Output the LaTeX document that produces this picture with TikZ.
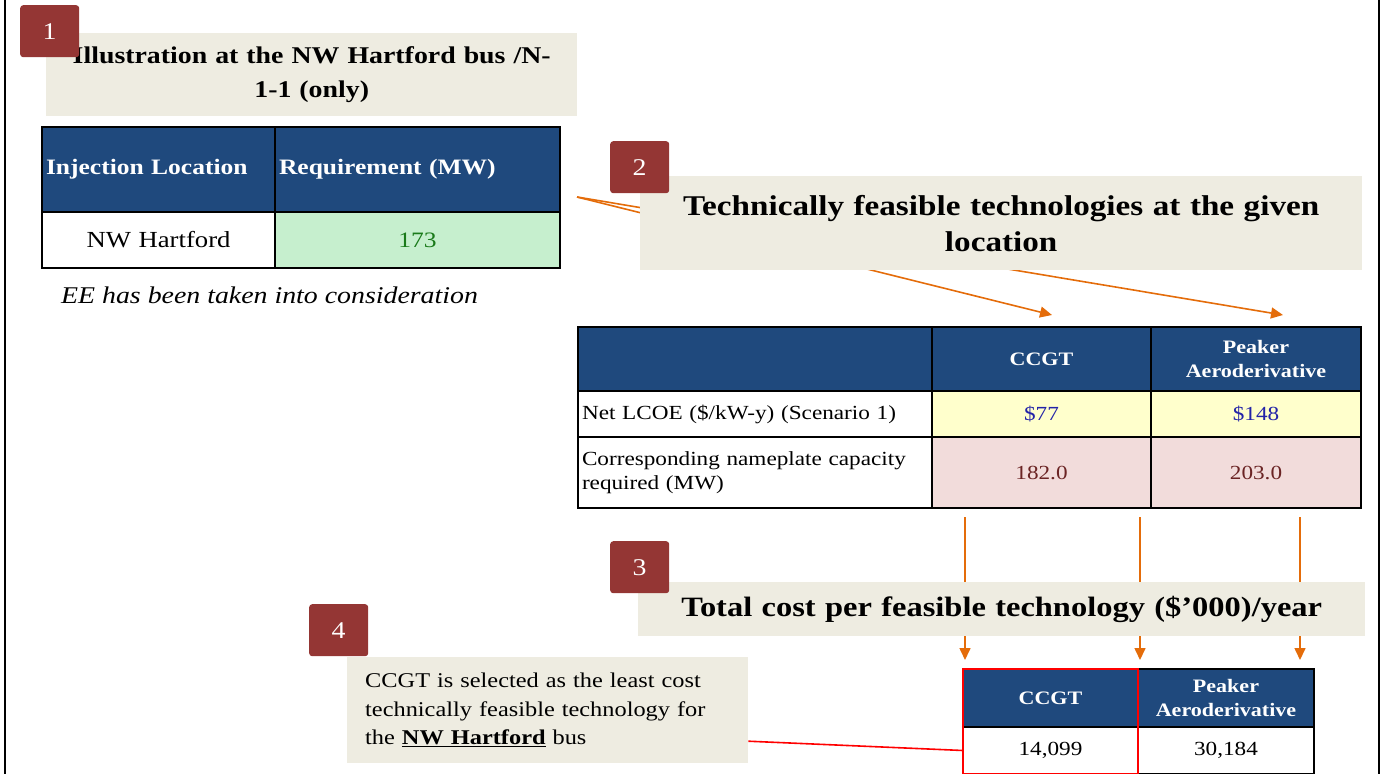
\documentclass[tikz,border=0pt]{standalone}
\usepackage{fontspec}
\setmainfont[FakeStretch=1.16]{Liberation Serif}
\usetikzlibrary{arrows.meta,positioning,calc}
\definecolor{hdrblue}{HTML}{1F497D}
\definecolor{badgered}{HTML}{943634}
\definecolor{calloutbg}{HTML}{EEECE1}
\definecolor{flowor}{HTML}{E46C0A}
\definecolor{okgreen}{HTML}{C6EFCE}
\definecolor{oktext}{HTML}{1A7A1A}
\definecolor{lcoebg}{HTML}{FFFFCC}
\definecolor{lcoetext}{HTML}{2323A8}
\definecolor{mwbg}{HTML}{F2DCDB}
\definecolor{mwtext}{HTML}{6B2424}
\tikzset{
  >={Triangle[length=12pt,width=11pt]},
  % nummerrutor
  badge/.style={fill=badgered,text=white,rounded corners=3pt,anchor=north west,
                minimum width=59pt,minimum height=52pt,inner sep=0pt,
                font=\fontsize{24}{24}\selectfont},
  callout/.style={fill=calloutbg,anchor=north west,inner sep=0pt,align=center,
                  font=\fontsize{28.6}{36}\selectfont\bfseries},
  % tabeller
  cell/.style={draw=black,line width=1.6pt,outer sep=0pt,inner xsep=4pt,inner ysep=0pt,
               font=\fontsize{20}{24}\selectfont},
  hdr/.style={cell,fill=hdrblue,text=white,font=\fontsize{19}{24}\selectfont\bfseries},
  flow/.style={->,draw=flowor,line width=1.6pt},
  pick/.style={draw=red,line width=1.6pt},
}
\begin{document}
\begin{tikzpicture}[x=1pt,y=-1pt]
  \useasboundingbox (0,0) rectangle (1382,774);
  \draw[line width=2pt] (5,0) -- (5,774) (1379,0) -- (1379,774);

  % pilar bakom rutorna
  \coordinate (fan) at (577,197);
  \coordinate (endA) at (1052,315);
  \coordinate (endB) at (1283,315);
  \draw[flow] (fan) -- (endA);
  \draw[flow] (fan) -- (endB);
  \foreach \x/\n in {965/1,1140/2,1300/3}{
    \coordinate (top\n) at (\x,517);
    \coordinate (bot\n) at (\x,660);
    \draw[flow] (top\n) -- (bot\n);
  }

  % rubriker
  \node[callout,minimum width=531pt,minimum height=83pt,text width=520pt,
        font=\fontsize{24}{34}\selectfont\bfseries] (title1) at (46,33)
    {Illustration at the NW Hartford bus /N-\\1-1 (only)};
  \node[callout,minimum width=722pt,minimum height=94pt,text width=710pt] (title2) at (640,176)
    {Technically feasible technologies at the given\\location};
  \node[callout,minimum width=727pt,minimum height=54pt,text width=720pt,
        font=\fontsize{28}{36}\selectfont\bfseries] (title3) at (638,582)
    {Total cost per feasible technology (\$’000)/year};
  \node[callout,minimum width=401pt,minimum height=106pt,text width=365pt,inner xsep=18pt,
        align=left,font=\fontsize{21}{28.5}\selectfont] (note) at (347,657)
    {CCGT is selected as the least cost\\technically feasible technology for\\
     the \underline{\textbf{NW Hartford}} bus};

  \node[badge] (b1) at (20,5) {1};
  \node[badge] (b2) at (610,141) {2};
  \node[badge] (b3) at (610,541) {3};
  \node[badge] (b4) at (309,604) {4};

  % tabell 1
  \node[hdr,anchor=north west,text width=225pt,minimum height=85pt,align=left,
        font=\fontsize{22}{24}\selectfont\bfseries] (inj) at (42,127)
    {Injection Location};
  \node[hdr,right=0pt of inj,text width=277pt,minimum height=85pt,align=left,
        font=\fontsize{22}{24}\selectfont\bfseries] (req)
    {Requirement (MW)};
  \node[cell,below=0pt of inj,text width=225pt,minimum height=56pt,align=center,
        font=\fontsize{23}{24}\selectfont] (loc)
    {NW Hartford};
  \node[cell,below=0pt of req,text width=277pt,minimum height=56pt,align=center,
        font=\fontsize{22}{24}\selectfont,fill=okgreen,text=oktext] (val) {173};
  \node[anchor=west,font=\fontsize{24}{28}\selectfont\itshape,inner sep=0pt] (eenote)
    at (61,295) {EE has been taken into consideration};

  % tabell 2
  \node[hdr,anchor=north west,text width=346pt,minimum height=64pt] (h0) at (578,327) {};
  \node[hdr,right=0pt of h0,text width=211pt,minimum height=64pt,align=center] (h1) {CCGT};
  \node[hdr,right=0pt of h1,text width=202pt,minimum height=64pt,align=center] (h2)
    {Peaker\\Aeroderivative};
  \node[cell,below=0pt of h0,text width=346pt,minimum height=46pt,align=left] (r1)
    {Net LCOE (\$/kW-y) (Scenario 1)};
  \node[cell,below=0pt of h1,text width=211pt,minimum height=46pt,align=center,
        fill=lcoebg,text=lcoetext] (lc1) {\$77};
  \node[cell,below=0pt of h2,text width=202pt,minimum height=46pt,align=center,
        fill=lcoebg,text=lcoetext] (lc2) {\$148};
  \node[cell,below=0pt of r1,text width=346pt,minimum height=71pt,align=left] (r2)
    {Corresponding nameplate capacity\\required (MW)};
  \node[cell,below=0pt of lc1,text width=211pt,minimum height=71pt,align=center,
        fill=mwbg,text=mwtext] (mw1) {182.0};
  \node[cell,below=0pt of lc2,text width=202pt,minimum height=71pt,align=center,
        fill=mwbg,text=mwtext] (mw2) {203.0};

  % tabell 3
  \node[hdr,anchor=north west,text width=167pt,minimum height=58pt,align=center] (hc1)
    at (963,669) {CCGT};
  \node[hdr,right=0pt of hc1,text width=168pt,minimum height=58pt,align=center] (hc2)
    {Peaker\\Aeroderivative};
  \node[cell,below=0pt of hc1,text width=167pt,minimum height=47pt,align=center] (c1) {14,099};
  \node[cell,below=0pt of hc2,text width=168pt,minimum height=47pt,align=center] (c2) {30,184};

  \draw[pick] (hc1.north west) rectangle (c1.south east);
  \draw[pick] ($(note.east)+(0,31)$) -- (c1.west);
\end{tikzpicture}
\end{document}
